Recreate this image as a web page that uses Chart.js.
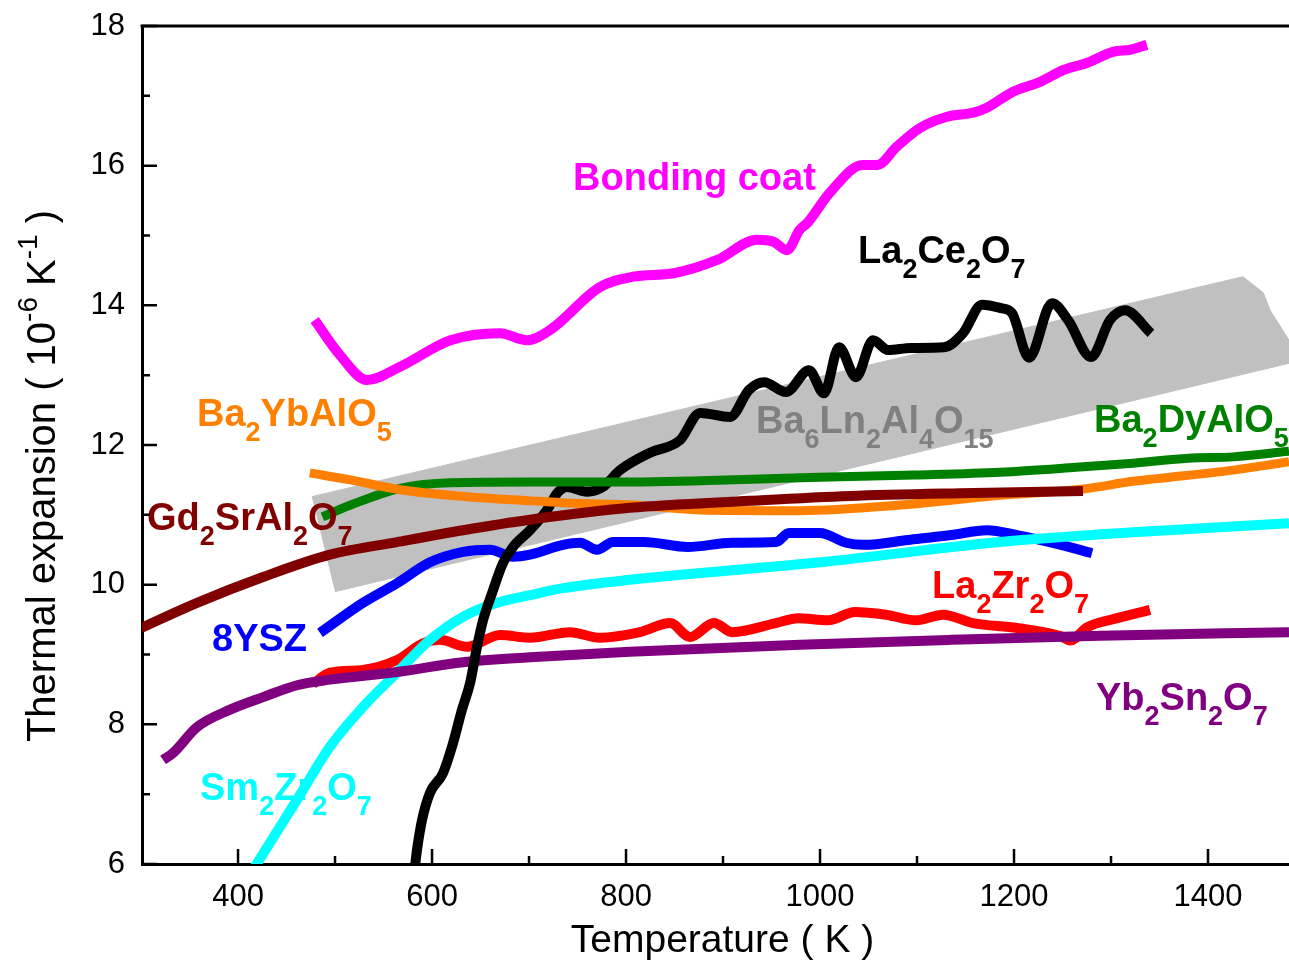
<!DOCTYPE html>
<html>
<head>
<meta charset="utf-8">
<script src="https://cdn.jsdelivr.net/npm/chart.js@4.4.1/dist/chart.umd.min.js"></script>
<style>
  html, body { margin: 0; padding: 0; background: #fff; }
  #wrap { width: 1289px; height: 962px; position: relative; }
</style>
</head>
<body>
<div id="wrap"><canvas id="chart"></canvas></div>
<script>
// Thermal expansion coefficient (10^-6 K^-1) versus temperature (K)

// Ba6Ln2Al4O15 range (shaded band outline)
const bandT = [476, 1436, 1457, 1464, 1483.5, 1483.5, 500];
const bandV = [11.26, 14.41, 14.18, 13.93, 13.50, 13.17, 9.90];

// Bonding coat
const bondT = [479, 505, 533, 567, 619, 670, 698, 722, 773, 807, 849, 894, 935, 952, 966, 979, 987, 1010, 1044, 1059, 1079, 1103, 1131, 1158, 1172, 1199, 1227, 1251, 1275, 1302, 1320, 1337];
const bondV = [13.79, 13.29, 12.93, 13.12, 13.50, 13.60, 13.50, 13.65, 14.26, 14.41, 14.46, 14.65, 14.94, 14.91, 14.79, 15.08, 15.18, 15.61, 16.01, 16.01, 16.27, 16.54, 16.70, 16.76, 16.83, 17.06, 17.20, 17.37, 17.47, 17.63, 17.66, 17.73];

// La2Ce2O7
const laCeT = [581.5, 584.5, 589.7, 597.9, 611.3, 620.6, 630.9, 639.2, 646.4, 652.6, 661.9, 673.2, 683.5, 701.0, 718.6, 728.9, 739.2, 759.8, 776.3, 793.8, 824.7, 855.7, 876.3, 907.2, 926.8, 942.3, 964.9, 988.7, 1004.1, 1019.6, 1037.1, 1054.6, 1070.1, 1093.8, 1127.8, 1147.4, 1167.0, 1186.6, 1197.9, 1215.5, 1239.2, 1255.7, 1279.4, 1299.0, 1314.4, 1341.2];
const laCeV = [5.85, 6.20, 6.63, 7.02, 7.30, 7.68, 8.21, 8.59, 9.11, 9.49, 9.88, 10.31, 10.54, 10.78, 11.07, 11.31, 11.40, 11.33, 11.40, 11.64, 11.89, 12.07, 12.46, 12.40, 12.79, 12.90, 12.76, 13.07, 12.74, 13.40, 12.97, 13.50, 13.36, 13.39, 13.40, 13.60, 14.01, 13.96, 13.89, 13.25, 14.03, 13.79, 13.26, 13.79, 13.93, 13.60];

// Ba2DyAlO5
const dyT = [487, 516, 567, 619, 704, 807, 979, 1097, 1186, 1264, 1323, 1380, 1426, 1483.5];
const dyV = [10.97, 11.14, 11.38, 11.46, 11.47, 11.47, 11.53, 11.57, 11.61, 11.68, 11.74, 11.81, 11.83, 11.91];

// Ba2YbAlO5
const ybAlT = [474, 516, 567, 636, 704, 739, 807, 876, 979, 1083, 1186, 1271, 1323, 1426, 1483.5];
const ybAlV = [11.60, 11.50, 11.36, 11.26, 11.20, 11.17, 11.14, 11.07, 11.06, 11.14, 11.28, 11.37, 11.48, 11.64, 11.76];

// Gd2SrAl2O7
const gdT = [300, 357.7, 425.8, 494.8, 563.9, 632.0, 701.0, 804.1, 927.8, 1030.9, 1144.3, 1271.1];
const gdV = [9.38, 9.74, 10.11, 10.43, 10.61, 10.78, 10.93, 11.10, 11.20, 11.27, 11.31, 11.34];

// 8YSZ
const yszT = [484.5, 528.9, 563.9, 597.9, 632.0, 659.8, 683.5, 701.0, 735.1, 752.6, 770.1, 786.6, 818.6, 863.9, 909.3, 954.6, 968.0, 1000.0, 1026.8, 1045.4, 1090.7, 1135.1, 1172.2, 1203.1, 1248.5, 1280.4];
const yszV = [9.31, 9.74, 10.02, 10.32, 10.47, 10.50, 10.40, 10.43, 10.57, 10.60, 10.50, 10.61, 10.61, 10.54, 10.60, 10.61, 10.74, 10.74, 10.60, 10.57, 10.64, 10.71, 10.78, 10.71, 10.57, 10.45];

// Sm2Zr2O7
const smT = [415.5, 419.6, 460.8, 494.8, 528.9, 563.9, 597.9, 632.0, 667.0, 701.0, 735.1, 804.1, 1000.0, 1185.6, 1322.7, 1483.5];
const smV = [5.92, 6.01, 6.92, 7.68, 8.25, 8.74, 9.21, 9.54, 9.74, 9.85, 9.95, 10.07, 10.32, 10.61, 10.75, 10.88];

// La2Zr2O7
const laZrT = [477.3, 494.8, 528.9, 563.9, 590.7, 608.2, 636.1, 670.1, 701.0, 742.3, 773.2, 814.4, 845.4, 866.0, 890.7, 909.3, 954.6, 977.3, 1008.2, 1036.1, 1068.0, 1099.0, 1126.8, 1157.7, 1203.1, 1248.5, 1258.0, 1275.3, 1306.2, 1340.2];
const laZrV = [8.58, 8.74, 8.78, 8.92, 9.16, 9.21, 9.11, 9.28, 9.24, 9.32, 9.24, 9.32, 9.45, 9.25, 9.45, 9.32, 9.45, 9.52, 9.49, 9.61, 9.57, 9.49, 9.57, 9.45, 9.38, 9.26, 9.20, 9.39, 9.52, 9.64];

// Yb2Sn2O7
const ybSnT = [322.7, 333.0, 357.7, 391.8, 425.8, 460.8, 494.8, 563.9, 632.0, 701.0, 804.1, 979.4, 1135.1, 1288.7, 1483.5];
const ybSnV = [7.49, 7.59, 7.96, 8.21, 8.39, 8.56, 8.64, 8.75, 8.89, 8.96, 9.04, 9.14, 9.21, 9.27, 9.32];

// Axis ticks
const xTickVals = [400, 600, 800, 1000, 1200, 1400];
const xMinorVals = [500, 700, 900, 1100, 1300];
const yTickVals = [6, 8, 10, 12, 14, 16, 18];
const yMinorVals = [7, 9, 11, 13, 15, 17];

// Curve labels ("_n" marks a subscript), anchored in data units (left edge, baseline)
const labelTexts = ['Bonding coat', 'La_2Ce_2O_7', 'Ba_2YbAlO_5', 'Ba_6Ln_2Al_4O_15', 'Ba_2DyAlO_5', 'Gd_2SrAl_2O_7', '8YSZ', 'La_2Zr_2O_7', 'Yb_2Sn_2O_7', 'Sm_2Zr_2O_7'];
const labelAnchorT = [745.4, 1039.2, 357.7, 934.0, 1282.5, 306.2, 373.2, 1115.5, 1284.5, 360.8];
const labelAnchorV = [15.65, 14.61, 12.27, 12.17, 12.19, 10.78, 9.05, 9.81, 8.21, 6.92];
const labelColors = ['#FF00FF', '#000000', '#FF8000', '#808080', '#008000', '#800000', '#0000FF', '#FF0000', '#800080', '#00FFFF'];

const FONT = "'Liberation Sans', Arial, Helvetica, sans-serif";

function pts(T, V) { return T.map((t, i) => ({ x: t, y: V[i] })); }

function curve(T, V, color, order, width) {
  return {
    data: pts(T, V),
    showLine: true,
    borderColor: color,
    backgroundColor: color,
    borderWidth: width || 10,
    pointRadius: 0,
    pointHoverRadius: 0,
    fill: false,
    cubicInterpolationMode: 'monotone',
    borderJoinStyle: 'round',
    order: order
  };
}

function parseRich(s) {
  const parts = [];
  const re = /_(\d+)|([^_]+)/g;
  let m;
  while ((m = re.exec(s))) {
    if (m[1]) parts.push({ t: m[1], sub: true });
    else parts.push({ t: m[2], sub: false });
  }
  return parts;
}

// Draws a run of text pieces; each piece has its own font and baseline shift
function drawRuns(ctx, runs, x, y, align) {
  let total = 0;
  runs.forEach(r => { ctx.font = r.font; r.w = ctx.measureText(r.t).width; total += r.w; });
  let cx = align === 'center' ? x - total / 2 : x;
  runs.forEach(r => {
    ctx.font = r.font;
    ctx.fillText(r.t, cx, y + r.dy);
    cx += r.w;
  });
}

const decor = {
  id: 'decor',
  afterDatasetsDraw(chart) {
    const { ctx, scales: { x, y } } = chart;
    ctx.save();
    ctx.textAlign = 'left';
    ctx.textBaseline = 'alphabetic';
    labelTexts.forEach((s, i) => {
      const runs = parseRich(s).map(p => ({
        t: p.t,
        font: p.sub ? 'bold 27px ' + FONT : 'bold 38px ' + FONT,
        dy: p.sub ? 15 : 0
      }));
      ctx.fillStyle = labelColors[i];
      drawRuns(ctx, runs, x.getPixelForValue(labelAnchorT[i]), y.getPixelForValue(labelAnchorV[i]), 'left');
    });
    ctx.restore();
  },
  afterDraw(chart) {
    const { ctx, chartArea: a, scales: { x, y } } = chart;
    ctx.save();
    ctx.strokeStyle = '#000';
    // top frame line
    ctx.lineWidth = 3;
    ctx.beginPath();
    ctx.moveTo(a.left - 1.5, a.top);
    ctx.lineTo(a.right, a.top);
    ctx.stroke();
    // inward ticks
    ctx.lineWidth = 2.5;
    ctx.beginPath();
    xTickVals.forEach(v => { const px = x.getPixelForValue(v); ctx.moveTo(px, a.bottom); ctx.lineTo(px, a.bottom - 15); });
    xMinorVals.forEach(v => { const px = x.getPixelForValue(v); ctx.moveTo(px, a.bottom); ctx.lineTo(px, a.bottom - 8); });
    yTickVals.forEach(v => { const py = y.getPixelForValue(v); ctx.moveTo(a.left, py); ctx.lineTo(a.left + 15, py); });
    yMinorVals.forEach(v => { const py = y.getPixelForValue(v); ctx.moveTo(a.left, py); ctx.lineTo(a.left + 8, py); });
    ctx.stroke();

    // axis titles
    ctx.fillStyle = '#000';
    ctx.textBaseline = 'alphabetic';
    ctx.font = '39px ' + FONT;
    ctx.textAlign = 'center';
    ctx.fillText('Temperature ( K )', (a.left + a.right) / 2 + 7, a.bottom + 88);

    ctx.textAlign = 'left';
    ctx.translate(a.left - 87, (a.top + a.bottom) / 2 + 31);
    ctx.rotate(-Math.PI / 2);
    const big = '40px ' + FONT, small = '28px ' + FONT;
    drawRuns(ctx, [
      { t: 'Thermal expansion ( 10', font: big, dy: 0 },
      { t: '-6', font: small, dy: -18 },
      { t: ' K', font: big, dy: 0 },
      { t: '-1', font: small, dy: -18 },
      { t: ' )', font: big, dy: 0 }
    ], 0, 0, 'center');
    ctx.restore();
  }
};

const tickFont = { family: FONT, size: 31 };

new Chart(document.getElementById('chart'), {
  type: 'scatter',
  data: {
    datasets: [
      Object.assign(curve(bandT, bandV, '#C0C0C0', 20, 1), { fill: 'shape', cubicInterpolationMode: 'default', tension: 0 }),
      curve(yszT, yszV, '#0000FF', 9),
      curve(laZrT, laZrV, '#FF0000', 8),
      curve(smT, smV, '#00FFFF', 7),
      curve(ybSnT, ybSnV, '#800080', 6),
      curve(laCeT, laCeV, '#000000', 5),
      curve(dyT, dyV, '#008000', 4, 9),
      curve(ybAlT, ybAlV, '#FF8000', 3, 9),
      curve(gdT, gdV, '#800000', 2),
      curve(bondT, bondV, '#FF00FF', 1)
    ]
  },
  options: {
    animation: false,
    responsive: true,
    maintainAspectRatio: false,
    events: [],
    layout: { padding: { left: 0, top: 26, right: 0, bottom: 0 } },
    plugins: { legend: { display: false }, tooltip: { enabled: false } },
    scales: {
      x: {
        type: 'linear', position: 'bottom', min: 301, max: 1483.5,
        grid: { display: false, drawTicks: false },
        border: { display: true, color: '#000', width: 3 },
        ticks: { font: tickFont, color: '#000', padding: 15, maxRotation: 0, autoSkip: false, callback: v => String(v) },
        afterBuildTicks: s => { s.ticks = xTickVals.map(v => ({ value: v })); },
        afterFit: s => { s.height = 98; s.paddingLeft = 0; s.paddingRight = 0; }
      },
      y: {
        type: 'linear', position: 'left', min: 6, max: 18,
        grid: { display: false, drawTicks: false },
        border: { display: true, color: '#000', width: 3 },
        ticks: { font: tickFont, color: '#000', padding: 17, autoSkip: false, callback: v => String(v) },
        afterBuildTicks: s => { s.ticks = yTickVals.map(v => ({ value: v })); },
        afterFit: s => { s.width = 142; s.paddingTop = 0; s.paddingBottom = 0; }
      }
    }
  },
  plugins: [decor]
});
</script>
</body>
</html>
